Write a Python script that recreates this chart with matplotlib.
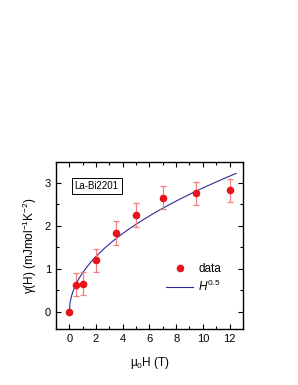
import matplotlib
matplotlib.use("Agg")
import matplotlib.pyplot as plt
import numpy as np
from matplotlib.ticker import MultipleLocator

plt.rcParams["font.family"] = ["Liberation Sans", "DejaVu Sans"]
plt.rcParams["mathtext.fontset"] = "custom"
plt.rcParams["mathtext.rm"] = "Liberation Sans"
plt.rcParams["mathtext.it"] = "Liberation Sans:style=italic"
plt.rcParams["mathtext.default"] = "regular"

# data
field = [0, 0.5, 1, 2, 3.5, 5, 7, 9.5, 12]
gamma = [0, 0.63, 0.65, 1.2, 1.83, 2.25, 2.65, 2.75, 2.82]
gamma_err = [0, 0.27, 0.27, 0.27, 0.27, 0.27, 0.27, 0.27, 0.27]
fit_coef = 0.91
fit_exp = 0.5

fig = plt.figure(figsize=(2.98, 3.85), dpi=100)
ax = fig.add_axes([0.188, 0.1455, 0.627, 0.4335])

ax.errorbar(field, gamma, yerr=gamma_err, fmt="none", ecolor="#f08080", elinewidth=0.9,
            capsize=2, capthick=0.9, zorder=3)
ax.plot(field, gamma, "o", color="#e8141c", markersize=5.5, markeredgewidth=0,
        label="data", zorder=4)
hfit = np.linspace(0, 12.5, 300)
ax.plot(hfit, fit_coef * hfit ** fit_exp, color="#2b2b9a", lw=0.8,
        label=r"$\mathit{H^{0.5}}$", zorder=2)

ax.set_xlim(-1, 13)
ax.set_ylim(-0.4, 3.48)
ax.xaxis.set_major_locator(MultipleLocator(2))
ax.xaxis.set_minor_locator(MultipleLocator(1))
ax.yaxis.set_major_locator(MultipleLocator(1))
ax.yaxis.set_minor_locator(MultipleLocator(0.5))
ax.tick_params(which="both", direction="in", top=True, right=True, labelsize=8, width=0.8)
ax.tick_params(which="major", length=3.5)
ax.tick_params(which="minor", length=2)
for s in ax.spines.values():
    s.set_linewidth(1.0)

ax.set_xlabel(r"$\mu_0$H (T)", fontsize=8.5, labelpad=8)
ax.set_ylabel(r"$\gamma$(H) (mJmol$^{-1}$K$^{-2}$)", fontsize=8.5)

ax.text(0.1, 0.84, "La-Bi2201", transform=ax.transAxes, fontsize=7,
        bbox=dict(boxstyle="square,pad=0.3", fc="white", ec="black", lw=0.7))

ax.legend(loc="upper left", bbox_to_anchor=(0.59, 0.395), frameon=False, fontsize=8.5,
          handlelength=2.3, labelspacing=0.35, borderpad=0, borderaxespad=0,
          handletextpad=0.4)

fig.savefig("out.png", dpi=100)
